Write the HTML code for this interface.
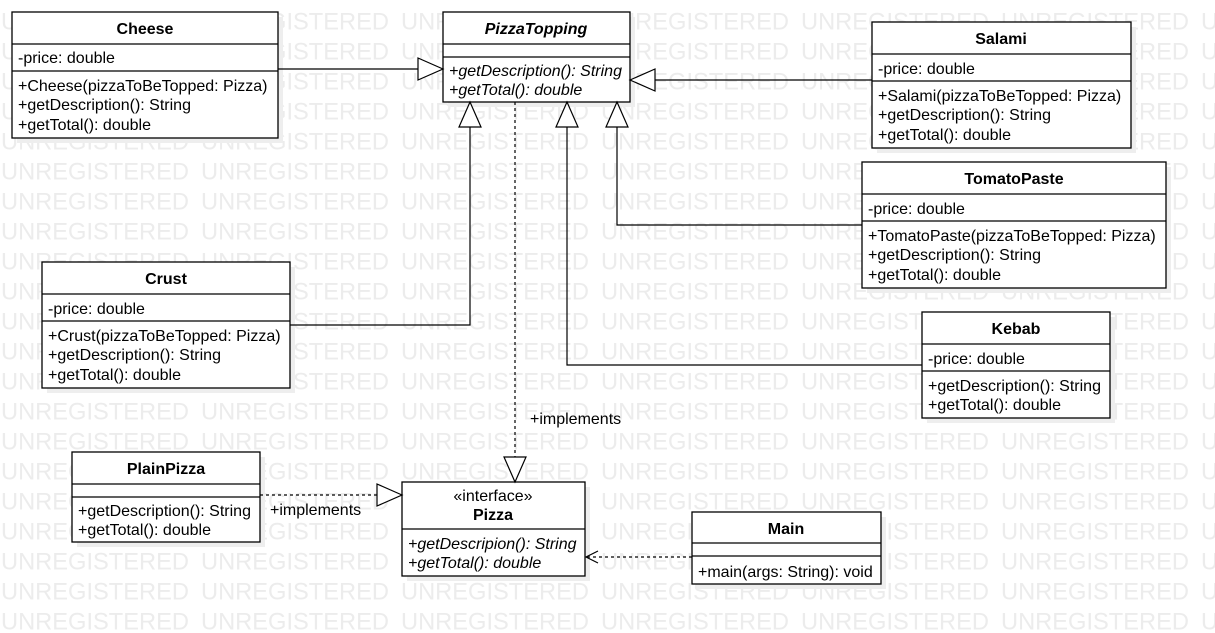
<!DOCTYPE html>
<html><head><meta charset="utf-8"><style>
html,body{margin:0;padding:0;background:#fff;}
svg{display:block;font-family:"Liberation Sans",Arial,sans-serif;}
</style></head><body>
<svg width="1215" height="633" viewBox="0 0 1215 633" xmlns="http://www.w3.org/2000/svg">
<defs>
<pattern id="wm" patternUnits="userSpaceOnUse" x="0" y="0" width="200" height="30">
<text x="1" y="29.5" font-size="24" fill="#ececec" textLength="188" lengthAdjust="spacingAndGlyphs">UNREGISTERED</text>
</pattern>
</defs>
<rect x="0" y="0" width="1215" height="633" fill="url(#wm)"/>
<g fill="#eeeeee">
<rect x="17" y="17" width="266" height="126"/>
<rect x="448" y="17" width="187" height="90"/>
<rect x="877" y="27" width="259" height="126"/>
<rect x="867" y="167" width="304" height="126"/>
<rect x="47" y="267" width="248" height="126"/>
<rect x="927" y="317" width="188" height="106"/>
<rect x="77" y="457" width="188" height="90"/>
<rect x="407" y="487" width="183" height="94"/>
<rect x="697" y="517" width="189" height="72"/>
</g>
<g fill="#fff" stroke="#000" stroke-width="1.3">
<rect x="12" y="12" width="266" height="126"/>
<rect x="443" y="12" width="187" height="90"/>
<rect x="872" y="22" width="259" height="126"/>
<rect x="862" y="162" width="304" height="126"/>
<rect x="42" y="262" width="248" height="126"/>
<rect x="922" y="312" width="188" height="106"/>
<rect x="72" y="452" width="188" height="90"/>
<rect x="402" y="482" width="183" height="94"/>
<rect x="692" y="512" width="189" height="72"/>
</g>
<g stroke="#000" stroke-width="1.3">
<line x1="12" y1="44" x2="278" y2="44"/><line x1="12" y1="71" x2="278" y2="71"/>
<line x1="443" y1="44" x2="630" y2="44"/><line x1="443" y1="57" x2="630" y2="57"/>
<line x1="872" y1="54" x2="1131" y2="54"/><line x1="872" y1="81" x2="1131" y2="81"/>
<line x1="862" y1="194" x2="1166" y2="194"/><line x1="862" y1="221" x2="1166" y2="221"/>
<line x1="42" y1="294" x2="290" y2="294"/><line x1="42" y1="321" x2="290" y2="321"/>
<line x1="922" y1="344" x2="1110" y2="344"/><line x1="922" y1="371" x2="1110" y2="371"/>
<line x1="72" y1="484" x2="260" y2="484"/><line x1="72" y1="497" x2="260" y2="497"/>
<line x1="402" y1="529" x2="585" y2="529"/>
<line x1="692" y1="543" x2="881" y2="543"/><line x1="692" y1="556" x2="881" y2="556"/>
</g>
<g fill="none" stroke="#000" stroke-width="1.2">
<line x1="278" y1="69" x2="418" y2="69"/>
<polygon points="443,69 418,58 418,80" fill="#fff"/>
<line x1="872" y1="80" x2="655" y2="80"/>
<polygon points="630,80 655,69 655,91" fill="#fff"/>
<polyline points="862,225 617,225 617,127"/>
<polygon points="617,102 606,127 628,127" fill="#fff"/>
<polyline points="922,365 567,365 567,127"/>
<polygon points="567,102 556,127 578,127" fill="#fff"/>
<polyline points="290,325 470,325 470,127"/>
<polygon points="470,102 459,127 481,127" fill="#fff"/>
<line x1="515" y1="102" x2="515" y2="457" stroke-dasharray="3,3"/>
<polygon points="515,482 504,457 526,457" fill="#fff"/>
<line x1="260" y1="495" x2="377" y2="495" stroke-dasharray="3,3"/>
<polygon points="402,495 377,484 377,506" fill="#fff"/>
<line x1="692" y1="557" x2="587" y2="557" stroke-dasharray="3,3"/>
<polyline points="598,551 586,557 598,563"/>
</g>
<g font-size="16" fill="#000">
<text x="145" y="34" text-anchor="middle" font-weight="bold">Cheese</text>
<text x="18" y="63">-price: double</text>
<text x="18" y="91">+Cheese(pizzaToBeTopped: Pizza)</text>
<text x="18" y="110">+getDescription(): String</text>
<text x="18" y="130">+getTotal(): double</text>

<text x="536" y="34" text-anchor="middle" font-weight="bold" font-style="italic">PizzaTopping</text>
<text x="449" y="76" font-style="italic">+getDescription(): String</text>
<text x="449" y="95" font-style="italic">+getTotal(): double</text>

<text x="1001" y="44" text-anchor="middle" font-weight="bold">Salami</text>
<text x="878" y="74">-price: double</text>
<text x="878" y="101">+Salami(pizzaToBeTopped: Pizza)</text>
<text x="878" y="120">+getDescription(): String</text>
<text x="878" y="140">+getTotal(): double</text>

<text x="1014" y="184" text-anchor="middle" font-weight="bold">TomatoPaste</text>
<text x="868" y="214">-price: double</text>
<text x="868" y="241">+TomatoPaste(pizzaToBeTopped: Pizza)</text>
<text x="868" y="260">+getDescription(): String</text>
<text x="868" y="280">+getTotal(): double</text>

<text x="166" y="284" text-anchor="middle" font-weight="bold">Crust</text>
<text x="48" y="314">-price: double</text>
<text x="48" y="341">+Crust(pizzaToBeTopped: Pizza)</text>
<text x="48" y="360">+getDescription(): String</text>
<text x="48" y="380">+getTotal(): double</text>

<text x="1016" y="334" text-anchor="middle" font-weight="bold">Kebab</text>
<text x="928" y="364">-price: double</text>
<text x="928" y="391">+getDescription(): String</text>
<text x="928" y="410">+getTotal(): double</text>

<text x="166" y="474" text-anchor="middle" font-weight="bold">PlainPizza</text>
<text x="78" y="516">+getDescription(): String</text>
<text x="78" y="535">+getTotal(): double</text>

<text x="493" y="501" text-anchor="middle">«interface»</text>
<text x="493" y="520" text-anchor="middle" font-weight="bold">Pizza</text>
<text x="408" y="549" font-style="italic">+getDescripion(): String</text>
<text x="408" y="568" font-style="italic">+getTotal(): double</text>

<text x="786" y="534" text-anchor="middle" font-weight="bold">Main</text>
<text x="698" y="577">+main(args: String): void</text>

<text x="530" y="424">+implements</text>
<text x="270" y="515">+implements</text>
</g>
</svg>
</body></html>
